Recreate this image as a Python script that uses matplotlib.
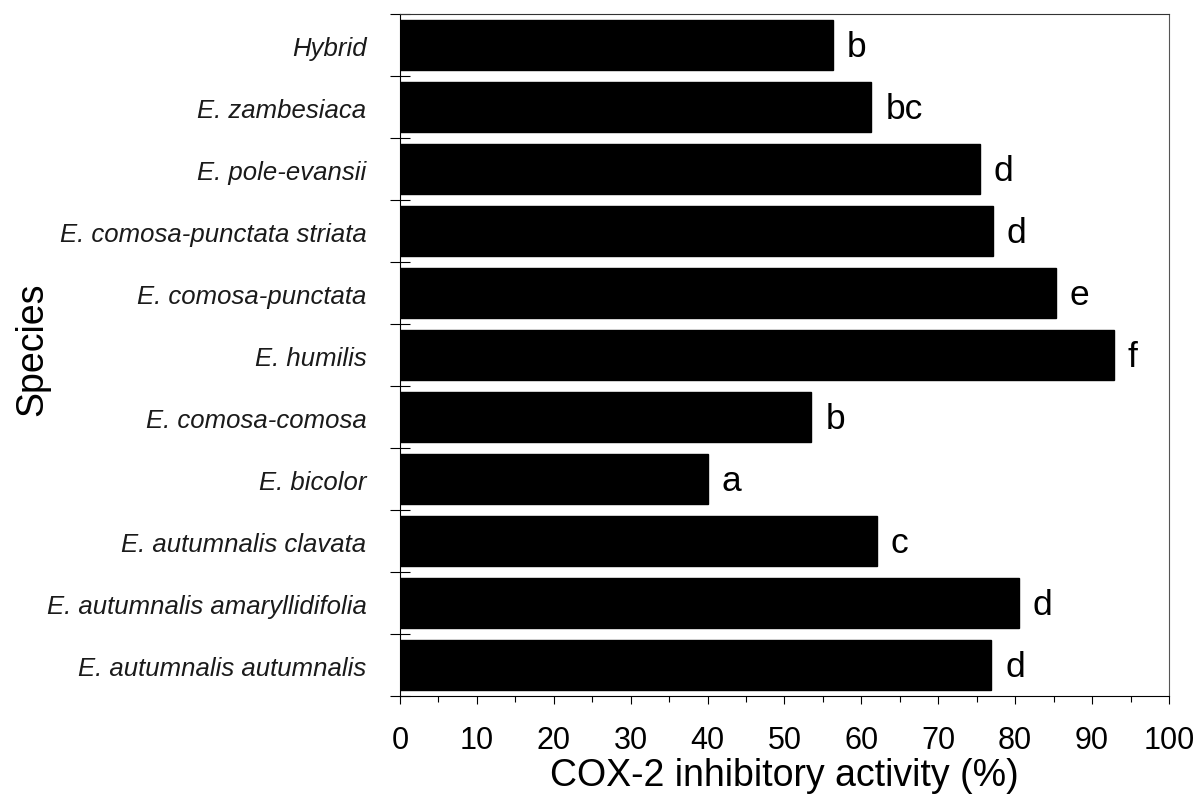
import matplotlib
matplotlib.use("Agg")
import matplotlib.pyplot as plt
from matplotlib.ticker import MultipleLocator, FixedLocator

plt.rcParams['font.family'] = ['Liberation Sans', 'DejaVu Sans']

# species listed from top to bottom
species = [
    'Hybrid',
    'E. zambesiaca',
    'E. pole-evansii',
    'E. comosa-punctata striata',
    'E. comosa-punctata',
    'E. humilis',
    'E. comosa-comosa',
    'E. bicolor',
    'E. autumnalis clavata',
    'E. autumnalis amaryllidifolia',
    'E. autumnalis autumnalis',
]
activity = [56.3, 61.3, 75.4, 77.1, 85.3, 92.8, 53.5, 40.0, 62.0, 80.5, 76.9]
groups = ['b', 'bc', 'd', 'd', 'e', 'f', 'b', 'a', 'c', 'd', 'd']

fig = plt.figure(figsize=(11.96, 8.03), dpi=100)
ax = fig.add_axes([0.3344, 0.132, 0.643, 0.8493])

pos = list(range(len(species)))
ax.barh(pos, activity, height=0.8, color='black', edgecolor='black')

for y, v, g in zip(pos, activity, groups):
    ax.annotate(g, (v, y), xytext=(10, -1), textcoords='offset points',
                ha='left', va='center', fontsize=25.5)

ax.set_xlim(0, 100)
ax.set_ylim(len(species) - 0.5, -0.5)

ax.xaxis.set_major_locator(MultipleLocator(10))
ax.xaxis.set_minor_locator(MultipleLocator(5))
ax.tick_params(axis='x', which='major', direction='out', length=6, width=0.8,
               labelsize=22, pad=15)
ax.tick_params(axis='x', which='minor', direction='out', length=4, width=0.8)

# category labels centred on bars, tick marks on the boundaries between them
ax.set_yticks(pos)
ax.set_yticklabels(species, fontstyle='italic', fontsize=18.5, color='#1a1a1a')
ax.yaxis.set_minor_locator(FixedLocator([p - 0.5 for p in range(len(species) + 1)]))
ax.tick_params(axis='y', which='major', length=0, pad=24)
ax.tick_params(axis='y', which='minor', direction='inout', length=15, width=0.8)

for side in ['left', 'bottom', 'top', 'right']:
    ax.spines[side].set_linewidth(0.8)
ax.spines['right'].set_color('#555555')
ax.spines['top'].set_color('#333333')

ax.set_xlabel('COX-2 inhibitory activity (%)', fontsize=27, labelpad=1)
ax.set_ylabel('Species', fontsize=27)
ax.yaxis.set_label_coords(-0.455, 0.51)

fig.savefig('out.png', dpi=100)
